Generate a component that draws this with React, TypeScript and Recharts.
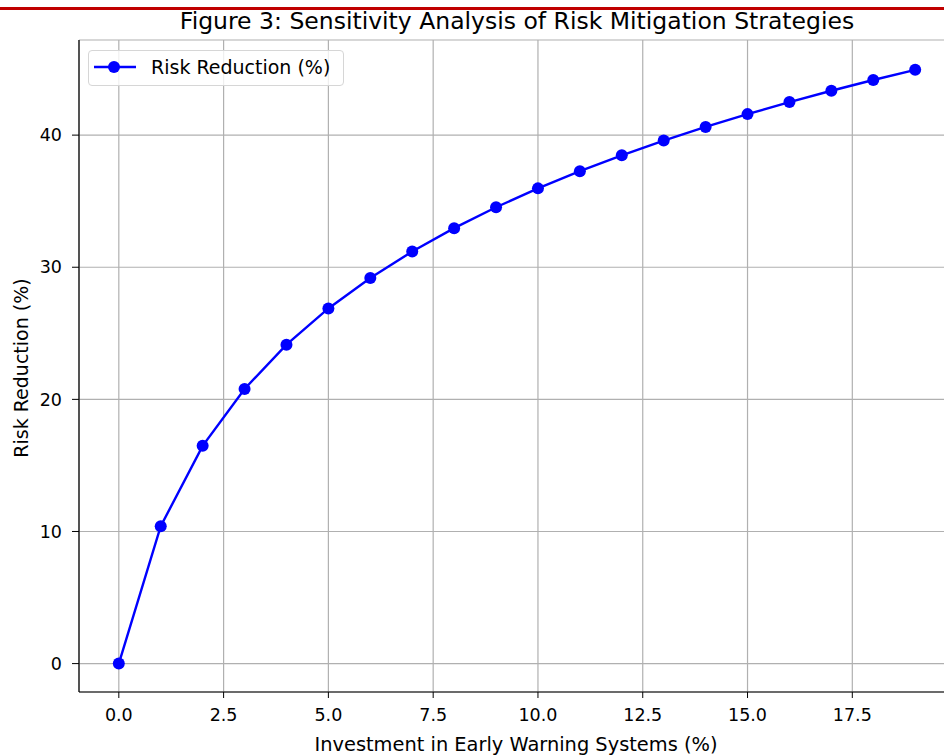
import React from 'react';
import { LineChart, Line, XAxis, YAxis, CartesianGrid } from 'recharts';

const investment = [0, 1, 2, 3, 4, 5, 6, 7, 8, 9, 10, 11, 12, 13, 14, 15, 16, 17, 18, 19];
const riskReduction = [0, 10.4, 16.48, 20.79, 24.14, 26.88, 29.19, 31.19, 32.96, 34.54, 35.97, 37.27, 38.47, 39.59, 40.62, 41.59, 42.5, 43.36, 44.17, 44.94];
const xTicks = [0, 2.5, 5, 7.5, 10, 12.5, 15, 17.5];
const yTicks = [0, 10, 20, 30, 40];

const seriesName = 'Risk Reduction (%)';
const seriesColor = '#0000ff';
const title = 'Figure 3: Sensitivity Analysis of Risk Mitigation Strategies';
const xLabel = 'Investment in Early Warning Systems (%)';
const yLabel = 'Risk Reduction (%)';

const data = investment.map((x, i) => ({ x, y: riskReduction[i] }));

const FONT = '"DejaVu Sans", sans-serif';

const LegendBox = () => (
  <div
    style={{
      position: 'absolute',
      left: 88,
      top: 50,
      boxSizing: 'border-box',
      width: 256,
      height: 36,
      border: '1px solid #d6d6d6',
      borderRadius: 4,
      background: 'rgba(255,255,255,0.8)',
      fontFamily: FONT,
    }}
  >
    <svg width={50} height={34} style={{ position: 'absolute', left: 5, top: 0 }}>
      <line x1={0} y1={16} x2={42} y2={16} stroke={seriesColor} strokeWidth={2.4} />
      <circle cx={20} cy={16} r={6} fill={seriesColor} />
    </svg>
    <span
      style={{
        position: 'absolute',
        left: 62,
        top: 5,
        fontSize: 19,
        lineHeight: '22px',
        color: '#000',
        whiteSpace: 'nowrap',
      }}
    >
      {seriesName}
    </span>
  </div>
);

export default function App() {
  return (
    <div
      style={{
        position: 'absolute',
        left: 0,
        top: 0,
        width: 944,
        height: 756,
        overflow: 'hidden',
        background: '#fff',
        fontFamily: FONT,
      }}
    >
      <div style={{ position: 'absolute', left: 0, top: 7, width: 944, height: 3, background: '#c00000' }} />
      <LineChart
        width={980}
        height={756}
        data={data}
        margin={{ top: 40, right: 25, left: 19, bottom: 0 }}
      >
        <CartesianGrid stroke="#b0b0b0" strokeWidth={1.2} />
        <XAxis
          xAxisId="top"
          orientation="top"
          dataKey="x"
          type="number"
          domain={[-0.95, 19.95]}
          allowDataOverflow
          height={0}
          tick={false}
          tickLine={false}
          axisLine={{ stroke: '#000', strokeWidth: 1.2 }}
        />
        <XAxis
          dataKey="x"
          type="number"
          domain={[-0.95, 19.95]}
          allowDataOverflow
          ticks={xTicks}
          interval={0}
          tickFormatter={(v: number) => v.toFixed(1)}
          height={64}
          tickSize={6}
          tickMargin={11}
          stroke="#000"
          axisLine={{ stroke: '#000', strokeWidth: 1.2 }}
          tick={{ fill: '#000', fontSize: 17.5, fontFamily: FONT }}
        />
        <YAxis
          dataKey="y"
          type="number"
          domain={[-2.15, 47.2]}
          allowDataOverflow
          ticks={yTicks}
          interval={0}
          width={60}
          tickSize={7}
          tickMargin={10}
          stroke="#000"
          axisLine={{ stroke: '#000', strokeWidth: 1.2 }}
          tick={{ fill: '#000', fontSize: 17.5, fontFamily: FONT }}
        />
        <Line
          name={seriesName}
          type="linear"
          dataKey="y"
          stroke={seriesColor}
          strokeWidth={2.4}
          dot={{ r: 6, fill: seriesColor, stroke: 'none' }}
          isAnimationActive={false}
        />
      </LineChart>
      <LegendBox />
      <svg
        width={944}
        height={756}
        style={{ position: 'absolute', left: 0, top: 0, pointerEvents: 'none' }}
      >
        <text x={517} y={29} textAnchor="middle" fontSize={23.5} fontFamily={FONT} fill="#000">
          {title}
        </text>
        <text x={516} y={751} textAnchor="middle" fontSize={19.4} fontFamily={FONT} fill="#000">
          {xLabel}
        </text>
        <text
          x={0}
          y={0}
          transform="translate(28,368) rotate(-90)"
          textAnchor="middle"
          fontSize={19}
          fontFamily={FONT}
          fill="#000"
        >
          {yLabel}
        </text>
      </svg>
    </div>
  );
}
